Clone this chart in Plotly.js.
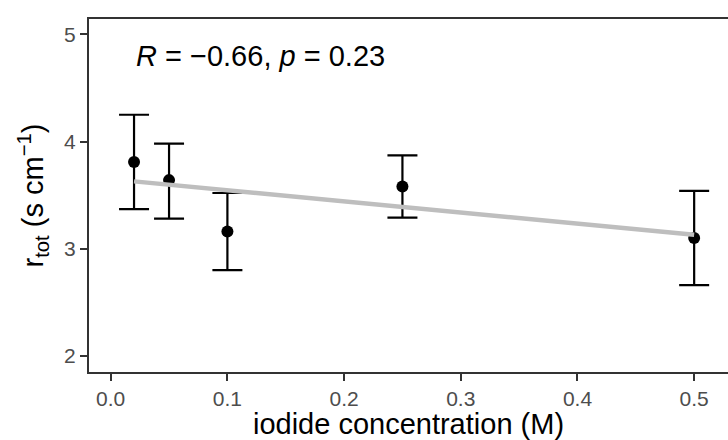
<!DOCTYPE html>
<html>
<head>
<meta charset="utf-8">
<script src="https://cdn.plot.ly/plotly-3.0.1.min.js"></script>
<style>html,body{margin:0;padding:0;background:#fff;}#chart{width:728px;height:440px;}</style>
</head>
<body>
<div id="chart"></div>
<script>
// iodide concentration (M)
const concentration = [0.02, 0.05, 0.10, 0.25, 0.50];
// mean r_tot (s cm^-1)
const rtot = [3.81, 3.64, 3.16, 3.58, 3.10];
// error bar upper and lower limits
const rtotUpper = [4.25, 3.98, 3.52, 3.87, 3.54];
const rtotLower = [3.37, 3.28, 2.80, 3.29, 2.66];
const xTicks = [0.0, 0.1, 0.2, 0.3, 0.4, 0.5];
const yTicks = [2, 3, 4, 5];
const corrLabel = "<i>R</i> = \u22120.66, <i>p</i> = 0.23";

// least-squares fit computed from the data
const n = concentration.length;
const mx = concentration.reduce((a, b) => a + b, 0) / n;
const my = rtot.reduce((a, b) => a + b, 0) / n;
let sxy = 0, sxx = 0;
for (let i = 0; i < n; i++) {
  sxy += (concentration[i] - mx) * (rtot[i] - my);
  sxx += (concentration[i] - mx) ** 2;
}
const slope = sxy / sxx;
const intercept = my - slope * mx;
const fitX = [Math.min(...concentration), Math.max(...concentration)];
const fitY = fitX.map(x => intercept + slope * x);

const font = "Liberation Sans, Arial, sans-serif";

const traces = [
  {
    x: concentration,
    y: rtot,
    type: "scatter",
    mode: "markers",
    marker: {color: "#000000", size: 12},
    error_y: {
      type: "data",
      symmetric: false,
      array: rtotUpper.map((u, i) => u - rtot[i]),
      arrayminus: rtotLower.map((l, i) => rtot[i] - l),
      color: "#000000",
      thickness: 2.2,
      width: 15
    },
    hoverinfo: "skip"
  },
  {
    x: fitX,
    y: fitY,
    type: "scatter",
    mode: "lines",
    line: {color: "#BEBEBE", width: 4.5},
    hoverinfo: "skip"
  }
];

const layout = {
  width: 728,
  height: 440,
  margin: {l: 89, r: 0, t: 19, b: 68},
  paper_bgcolor: "#ffffff",
  plot_bgcolor: "#ffffff",
  showlegend: false,
  font: {family: font, color: "#000000"},
  xaxis: {
    range: [-0.0186, 0.529],
    tickvals: xTicks,
    ticktext: xTicks.map(v => v.toFixed(1)),
    showgrid: false,
    zeroline: false,
    showline: true,
    mirror: true,
    linecolor: "#333333",
    linewidth: 2,
    ticks: "outside",
    ticklen: 7,
    tickwidth: 2,
    tickcolor: "#333333",
    tickfont: {family: font, size: 21, color: "#4D4D4D"},
    title: {text: "iodide concentration (M)", font: {family: font, size: 29, color: "#000000"}, standoff: 2}
  },
  yaxis: {
    range: [1.85, 5.143],
    tickvals: yTicks,
    ticktext: yTicks.map(String),
    showgrid: false,
    zeroline: false,
    showline: true,
    mirror: false,
    linecolor: "#333333",
    linewidth: 2,
    ticks: "outside",
    ticklen: 7,
    tickwidth: 2,
    tickcolor: "#333333",
    tickfont: {family: font, size: 21, color: "#4D4D4D"},
    title: {text: "r<sub>tot</sub> (s cm<sup>\u22121</sup>)", font: {family: font, size: 29, color: "#000000"}, standoff: 12}
  },
  annotations: [
    {
      text: corrLabel,
      xref: "paper",
      yref: "paper",
      x: 0.07,
      y: 0.895,
      xanchor: "left",
      yanchor: "middle",
      showarrow: false,
      font: {family: font, size: 29, color: "#000000"}
    }
  ]
};

Plotly.newPlot("chart", traces, layout, {staticPlot: true, displayModeBar: false});
</script>
</body>
</html>
